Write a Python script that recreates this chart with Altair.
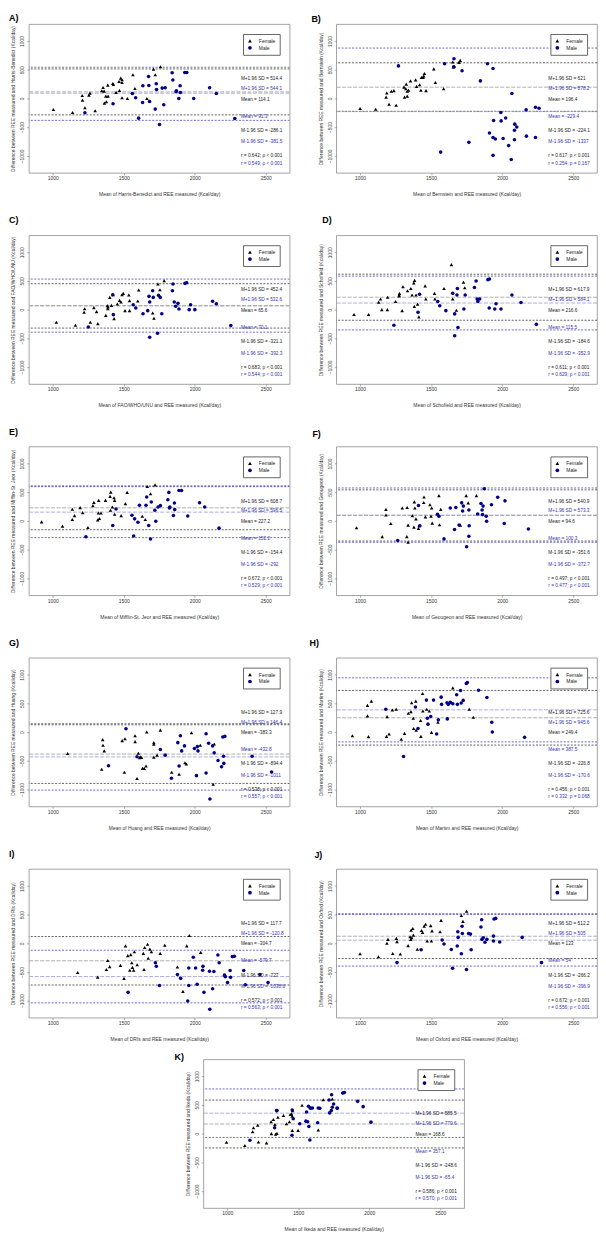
import altair as alt
import pandas as pd

# ------------------------------------------------------------------
# Data: (mean of equation & measured, difference)
# ------------------------------------------------------------------
A_female = [(1005,-192),(1140,-244),(1208,52),(1210,-29),(1227,-163),(1255,58),(1262,93),(1299,-215),(1346,134),(1355,192),(1362,128),(1364,-81),(1374,41),(1378,-58),(1388,232),(1390,41),(1423,261),(1427,244),(1446,105),(1467,296),(1470,139),(1479,354),(1488,279),(1488,325),(1488,12),(1526,0),(1565,412),(1579,174),(1663,0),(1682,-46),(1710,511),(1722,412),(1759,552)]
A_male = [(1227,-250),(1425,-93),(1561,87),(1584,12),(1605,-343),(1633,-70),(1635,221),(1675,383),(1677,227),(1682,-52),(1722,-186),(1729,256),(1731,157),(1752,-453),(1771,180),(1782,-110),(1792,186),(1841,447),(1846,320),(1869,116),(1871,134),(1888,0),(1897,221),(1899,105),(1930,453),(1944,453),(1993,0),(2105,186),(2152,87),(2282,-349)]

B_female = [(1000,-176),(1110,-187),(1183,23),(1188,96),(1204,-102),(1220,125),(1238,136),(1254,-119),(1309,198),(1313,23),(1322,170),(1325,249),(1332,40),(1332,125),(1341,142),(1355,306),(1391,323),(1398,210),(1419,238),(1428,142),(1432,368),(1444,368),(1448,391),(1453,436),(1464,136),(1519,516),(1530,278),(1588,170),(1652,635),(1657,550),(1664,561),(1696,629),(1705,663)]
B_male = [(1270,567),(1595,606),(1661,691),(1659,550),(1718,482),(1847,306),(1897,606),(1936,521),(1567,-935),(1766,-765),(1940,-385),(1911,-601),(1936,-680),(1952,-708),(1936,-992),(1991,-244),(1993,-391),(2007,-697),(2025,-340),(2046,-822),(2069,85),(2064,-1065),(2089,-448),(2087,-555),(2087,-720),(2103,-499),(2169,-198),(2171,-657),(2235,-153),(2235,-680),(2260,-170)]

C_female = [(1026,-220),(1160,-272),(1221,-46),(1225,17),(1265,-220),(1290,35),(1309,-35),(1318,-243),(1374,-99),(1385,70),(1388,17),(1390,46),(1402,214),(1413,75),(1425,261),(1432,-157),(1455,99),(1471,162),(1481,133),(1488,261),(1497,284),(1509,-17),(1536,255),(1541,157),(1541,-17),(1599,151),(1606,342),(1704,-58),(1713,-151),(1741,446),(1755,348),(1785,504)]
C_male = [(1251,-301),(1423,261),(1427,-87),(1567,87),(1585,29),(1636,-70),(1669,-17),(1678,232),(1683,133),(1683,-481),(1704,330),(1708,214),(1738,-412),(1745,249),(1757,214),(1768,-70),(1843,330),(1847,446),(1856,133),(1866,58),(1882,110),(1889,12),(1961,0),(1971,87),(2001,0),(1931,458),(1943,470),(2126,145),(2152,104),(2254,-278)]

D_female = [(957,-85),(1060,-85),(1131,131),(1144,187),(1153,0),(1192,0),(1194,216),(1250,142),(1275,239),(1277,284),(1275,256),(1296,-17),(1302,398),(1334,329),(1357,369),(1366,256),(1378,466),(1384,511),(1382,57),(1394,256),(1405,97),(1414,-125),(1458,415),(1463,187),(1524,284),(1527,187),(1591,369),(1643,784),(1652,187),(1728,477),(1737,381),(1678,-11)]
D_male = [(1238,-273),(1408,-45),(1419,267),(1547,142),(1561,68),(1604,-17),(1652,284),(1666,-74),(1682,256),(1685,369),(1689,-312),(1666,-454),(1731,11),(1740,256),(1805,386),(1817,500),(1824,187),(1829,142),(1842,187),(1900,523),(1911,534),(1909,28),(1948,11),(1957,102),(1992,11),(2069,256),(2133,125),(2241,-256)]

E_female = [(922,-17),(1069,-92),(1138,23),(1138,202),(1154,92),(1193,231),(1211,144),(1248,-115),(1283,265),(1290,323),(1317,17),(1324,357),(1329,40),(1322,138),(1340,138),(1372,357),(1404,427),(1409,501),(1407,184),(1420,242),(1432,403),(1436,115),(1436,357),(1482,92),(1512,300),(1524,496),(1631,81),(1652,23),(1666,599),(1689,473),(1721,628)]
E_male = [(1234,-277),(1423,-81),(1446,208),(1558,98),(1570,-265),(1577,35),(1600,-23),(1611,271),(1657,271),(1662,415),(1676,-81),(1689,-317),(1694,329),(1719,184),(1726,-6),(1742,242),(1758,265),(1811,369),(1818,496),(1822,225),(1825,242),(1850,92),(1857,311),(1859,196),(1889,530),(1907,530),(1951,86),(2034,317),(2070,242),(2171,-127)]

F_female = [(975,-120),(1156,-274),(1182,200),(1182,103),(1216,-46),(1297,223),(1331,234),(1329,-274),(1338,-74),(1338,-371),(1368,91),(1382,331),(1386,223),(1379,-109),(1393,34),(1411,-131),(1416,-86),(1448,320),(1450,417),(1460,69),(1492,280),(1499,80),(1504,223),(1508,-40),(1555,440),(1559,-69),(1568,200),(1706,-74),(1747,440),(1761,314),(1819,440)]
F_male = [(1265,-343),(1411,269),(1421,-86),(1545,114),(1555,80),(1591,-314),(1635,223),(1665,-149),(1674,234),(1697,-74),(1715,314),(1722,171),(1727,257),(1750,-451),(1766,189),(1768,-86),(1766,-269),(1828,120),(1851,303),(1859,189),(1866,257),(1862,109),(1874,560),(1888,80),(1891,-6),(1925,280),(1969,411),(2015,-46),(2020,349),(2185,-143)]

G_female = [(1105,-374),(1345,-649),(1352,-132),(1354,-230),(1363,-328),(1489,-149),(1505,-701),(1509,-115),(1580,-63),(1580,-167),(1594,-810),(1603,-368),(1612,-448),(1617,-431),(1626,-443),(1632,-632),(1644,-632),(1657,-592),(1662,0),(1712,-184),(1712,-213),(1712,-437),(1735,-402),(1758,34),(1838,-701),(1890,-736),(1931,-534),(1941,-557),(1977,-11),(2039,-230),(2130,-908),(2137,-207)]
G_male = [(1393,-586),(1516,57),(1594,-431),(1758,-305),(1792,-402),(1836,-805),(1881,-184),(1890,-592),(1899,-63),(1908,-328),(1928,-241),(1998,-287),(2012,-759),(2019,-253),(2023,-328),(2080,-29),(2080,-713),(2098,-195),(2107,-1167),(2126,-241),(2137,-362),(2164,-494),(2189,-603),(2198,-86),(2212,-75),(2203,-420),(2205,-546),(2404,-420),(2541,-695)]

H_female = [(946,-63),(1052,466),(1052,282),(1059,-80),(1079,540),(1186,-75),(1190,270),(1204,-34),(1227,385),(1254,397),(1290,-126),(1313,-23),(1340,328),(1358,356),(1363,511),(1374,241),(1377,63),(1392,540),(1395,34),(1426,201),(1428,-75),(1440,672),(1442,368),(1469,397),(1487,368),(1503,-6),(1548,172),(1653,770),(1768,397),(1797,259)]
H_male = [(1181,397),(1306,-425),(1390,437),(1408,63),(1467,557),(1474,241),(1478,138),(1497,270),(1517,557),(1539,-34),(1551,213),(1571,609),(1574,483),(1612,511),(1614,230),(1621,483),(1635,517),(1653,494),(1680,649),(1685,483),(1707,724),(1712,506),(1726,552),(1748,845),(1755,862),(1834,730),(1893,603),(1927,172),(1931,0),(2158,-92)]

I_female = [(1176,-509),(1317,-589),(1378,-458),(1388,-300),(1401,-407),(1477,-385),(1502,-611),(1513,-45),(1529,-215),(1543,-470),(1550,-198),(1557,-340),(1561,-419),(1570,-470),(1575,-147),(1595,-374),(1638,-175),(1643,-458),(1648,-74),(1668,-17),(1673,-260),(1684,-102),(1695,-147),(1757,-175),(1789,-34),(1878,-413),(1917,-838),(1944,-45),(1962,136),(2042,-158)]
I_male = [(1531,-855),(1723,-340),(1730,-402),(1752,-736),(1878,-543),(1901,-611),(1951,-1007),(1958,-430),(1958,-736),(1990,-243),(2006,-430),(2017,-713),(2056,-470),(2058,-402),(2065,-855),(2104,-487),(2106,-1149),(2126,-792),(2135,-492),(2163,-204),(2172,-340),(2210,-555),(2215,-583),(2231,-685),(2249,-475),(2252,-594),(2265,-232),(2279,-226),(2345,-475),(2356,-724),(2459,-543),(2516,-685)]

J_female = [(1000,-183),(1129,-234),(1189,0),(1196,68),(1230,-177),(1255,86),(1260,29),(1283,-188),(1338,-40),(1352,114),(1357,68),(1359,228),(1364,97),(1371,257),(1375,143),(1403,-103),(1433,222),(1440,188),(1451,297),(1461,331),(1472,40),(1497,308),(1502,40),(1506,217),(1563,200),(1570,399),(1713,485),(1724,382),(1750,559)]
J_male = [(1260,-337),(1430,-114),(1578,57),(1591,-11),(1642,-108),(1651,-434),(1684,-46),(1688,200),(1690,103),(1713,-183),(1718,297),(1720,171),(1749,-456),(1764,171),(1777,160),(1782,-114),(1851,285),(1856,411),(1858,68),(1867,97),(1879,17),(1893,68),(1939,125),(1939,40),(1943,422),(1955,434),(1983,23),(2141,103),(2277,-337)]

K_female = [(995,-149),(1124,-207),(1179,34),(1185,103),(1220,-144),(1215,149),(1277,-161),(1309,207),(1311,0),(1325,247),(1336,161),(1341,-11),(1350,6),(1357,287),(1396,316),(1417,172),(1438,207),(1444,333),(1453,345),(1458,305),(1458,57),(1460,402),(1499,57),(1641,63),(1527,494),(1676,592),(1740,603)]
K_male = [(1160,-115),(1334,103),(1348,402),(1350,402),(1456,-29),(1458,414),(1465,259),(1511,172),(1559,379),(1554,218),(1566,207),(1575,126),(1582,-109),(1584,448),(1637,190),(1721,362),(1733,402),(2012,201),(1774,448),(1572,477),(1589,442),(1600,448),(1641,448),(1652,442),(1717,586),(1735,678),(1749,517),(1740,460),(1775,442),(1813,707),(1825,718),(1918,563),(1957,471)]

# limits of agreement: [M+1.96 SD, Mean, M-1.96 SD]
A_female_loa = [514.4, 114.1, -286.1]
A_male_loa = [544.1, 91.3, -381.5]
B_female_loa = [621, 196.4, -224.1]
B_male_loa = [878.2, -229.4, -1337]
C_female_loa = [452.4, 65.6, -321.1]
C_male_loa = [532.6, 70.1, -392.3]
D_female_loa = [617.9, 216.6, -184.6]
D_male_loa = [584.1, 115.5, -352.9]
E_female_loa = [608.7, 227.2, -154.4]
E_male_loa = [596.5, 152.2, -292]
F_female_loa = [540.9, 94.6, -351.6]
F_male_loa = [573.3, 100.3, -372.7]
G_female_loa = [127.9, -383.3, -894.4]
G_male_loa = [146.4, -432.8, -1011]
H_female_loa = [725.6, 249.4, -226.8]
H_male_loa = [945.6, 387.5, -170.6]
I_female_loa = [117.7, -304.7, -727]
I_male_loa = [-120.8, -579.7, -1038.6]
J_female_loa = [512.2, 123, -266.2]
J_male_loa = [505, 54, -396.9]
K_female_loa = [585.5, 168.6, -248.6]
K_male_loa = [779.6, 357.1, -65.4]

r_texts = {
    "A": ["r = 0.642; p < 0.001", "r = 0.549; p < 0.001"],
    "B": ["r = 0.617; p < 0.001", "r = 0.254; p = 0.167"],
    "C": ["r = 0.683; p < 0.001", "r = 0.544; p < 0.001"],
    "D": ["r = 0.611; p < 0.001", "r = 0.629; p < 0.001"],
    "E": ["r = 0.672; p < 0.001", "r = 0.529; p < 0.001"],
    "F": ["r = 0.497; p < 0.001", "r = 0.477; p < 0.001"],
    "G": ["r = 0.538; p < 0.001", "r = 0.557; p < 0.001"],
    "H": ["r = 0.456; p < 0.001", "r = 0.332; p = 0.068"],
    "I": ["r = 0.572; p < 0.001", "r = 0.563; p < 0.001"],
    "J": ["r = 0.672; p < 0.001", "r = 0.556; p < 0.001"],
    "K": ["r = 0.586; p < 0.001", "r = 0.570; p < 0.001"],
}
equation_names = {
    "A": "Harris-Benedict", "B": "Bernstein", "C": "FAO/WHO/UNU", "D": "Schofield",
    "E": "Mifflin-St. Jeor", "F": "Geougeon", "G": "Huang", "H": "Martim",
    "I": "DRIs", "J": "Oxford", "K": "Ikeda",
}
x_ticks = [1000, 1500, 2000, 2500]
y_ticks = [-1000, -500, 0, 500, 1000]

# ------------------------------------------------------------------
FONT = "Liberation Sans"
W, H = 263, 150
XS = alt.Scale(domain=[832, 2668], nice=False, zero=False)
YS = alt.Scale(domain=[-1296, 1296], nice=False, zero=False)
FEMALE_C, MALE_C = "#000000", "#00008b"


def fmt(v):
    return f"{v:g}"


def panel(letter, female, male, f_loa, m_loa, rt, tdx, toff):
    name = equation_names[letter]
    xenc = alt.X("x:Q", scale=XS, axis=alt.Axis(
        values=x_ticks, format="d", title=f"Mean of {name} and REE measured (Kcal/day)",
        labelFontSize=5, titleFontSize=5, tickSize=2, labelPadding=1,
        titlePadding=11, titleFontWeight="normal", labelOverlap=False))
    yenc = alt.Y("y:Q", scale=YS, axis=alt.Axis(
        values=y_ticks, format="d",
        title=f"Difference between REE measured and {name} (Kcal/day)",
        labelFontSize=5, titleFontSize=5, tickSize=2, labelPadding=2,
        labelAngle=270, labelAlign="center", labelBaseline="bottom",
        titlePadding=4, titleFontWeight="normal", labelOverlap=False))

    pts = pd.DataFrame(
        [{"x": a, "y": b, "Sex": "Female"} for a, b in female]
        + [{"x": a, "y": b, "Sex": "Male"} for a, b in male])
    leg = alt.Legend(title=None, orient="top-right", offset=10, labelFontSize=5,
                     labelFont=FONT, symbolSize=14, padding=4, strokeColor="#666",
                     fillColor="white", rowPadding=1, labelOffset=6, labelColor="#222")
    points = alt.Chart(pts).mark_point(filled=True, size=13, opacity=1).encode(
        x=xenc, y=yenc,
        color=alt.Color("Sex:N", scale=alt.Scale(domain=["Female", "Male"],
                                                  range=[FEMALE_C, MALE_C]), legend=leg),
        shape=alt.Shape("Sex:N", scale=alt.Scale(domain=["Female", "Male"],
                                                  range=["triangle-up", "circle"]), legend=leg),
    )

    kinds = ["F limit", "F mean", "F limit", "M limit", "M mean", "M limit"]
    rdf = pd.DataFrame({"y": list(f_loa) + list(m_loa), "kind": kinds})
    rules = alt.Chart(rdf).mark_rule(strokeWidth=0.8, clip=True).encode(
        y=yenc,
        stroke=alt.Stroke("kind:N", legend=None, scale=alt.Scale(
            domain=["F limit", "F mean", "M limit", "M mean"],
            range=["#3a3a3a", "#9a9a9a", "#4646c0", "#9898d8"])),
        strokeDash=alt.StrokeDash("kind:N", legend=None, scale=alt.Scale(
            domain=["F limit", "F mean", "M limit", "M mean"],
            range=[[2, 1.5], [4, 1.5], [2, 1.5], [4, 1.5]])),
    )

    labels = [f"M+1.96 SD =  {fmt(f_loa[0])}", f"M+1.96 SD =  {fmt(m_loa[0])}",
              f"Mean =  {fmt(f_loa[1])}", f"Mean =  {fmt(m_loa[1])}",
              f"M-1.96 SD =  {fmt(f_loa[2])}", f"M-1.96 SD =  {fmt(m_loa[2])}",
              rt[0], rt[1]]
    sexes = ["Female", "Male"] * 4
    ypos = [335, 165, -20, -315, -565, -765, -1010, -1135]
    tdf = pd.DataFrame({"x": [2325] * 8, "y": ypos, "label": labels, "Sex": sexes})
    tf = alt.Chart(tdf).transform_filter(alt.datum.Sex == "Female").mark_text(
        align="left", baseline="middle", fontSize=4.8, font=FONT, color="#222222"
    ).encode(x=xenc, y=yenc, text="label:N")
    tm = alt.Chart(tdf).transform_filter(alt.datum.Sex == "Male").mark_text(
        align="left", baseline="middle", fontSize=4.8, font=FONT, color="#3434b0"
    ).encode(x=xenc, y=yenc, text="label:N")

    return alt.layer(rules, points, tf, tm).properties(
        width=W, height=H,
        title=alt.TitleParams(text=f"{letter})", dx=tdx, offset=toff,
                              anchor="start", frame="group", fontSize=9,
                              fontWeight="bold", font=FONT),
    )


pA = panel("A", A_female, A_male, A_female_loa, A_male_loa, r_texts["A"], -20, 1)
pB = panel("B", B_female, B_male, B_female_loa, B_male_loa, r_texts["B"], -25, 0)
pC = panel("C", C_female, C_male, C_female_loa, C_male_loa, r_texts["C"], -20, 10)
pD = panel("D", D_female, D_male, D_female_loa, D_male_loa, r_texts["D"], -14, 10)
pE = panel("E", E_female, E_male, E_female_loa, E_male_loa, r_texts["E"], -20, 10)
pF = panel("F", F_female, F_male, F_female_loa, F_male_loa, r_texts["F"], -24, 8)
pG = panel("G", G_female, G_male, G_female_loa, G_male_loa, r_texts["G"], -20, 10)
pH = panel("H", H_female, H_male, H_female_loa, H_male_loa, r_texts["H"], -27, 10)
pI = panel("I", I_female, I_male, I_female_loa, I_male_loa, r_texts["I"], -20, 10)
pJ = panel("J", J_female, J_male, J_female_loa, J_male_loa, r_texts["J"], -22, 9)
pK = panel("K", K_female, K_male, K_female_loa, K_male_loa, r_texts["K"], -29, -3)

spacer = alt.Chart(pd.DataFrame({"x": [0]})).mark_point(opacity=0).properties(
    width=176, height=10, view=alt.ViewBackground(stroke="transparent"))


def row(*charts, spacing=47):
    return alt.hconcat(*charts, spacing=spacing, bounds="flush").resolve_scale(
        color="independent", shape="independent")


bottom_rows = alt.vconcat(
    row(pI, pJ), row(spacer, pK, spacing=0), spacing=10,
).resolve_scale(color="independent", shape="independent")

chart = alt.vconcat(
    row(pA, pB), row(pC, pD), row(pE, pF), row(pG, pH), bottom_rows,
    spacing=18,
).resolve_scale(color="independent", shape="independent").properties(
    padding=0
).configure_view(
    stroke="#8c8c8c", strokeWidth=0.8
).configure_axis(
    domain=False, grid=False, tickColor="#777777", tickWidth=0.6,
    labelColor="#333333", titleColor="#333333", labelFont=FONT, titleFont=FONT,
)

chart.save("out.html", embed_options={"renderer": "svg", "actions": False})
